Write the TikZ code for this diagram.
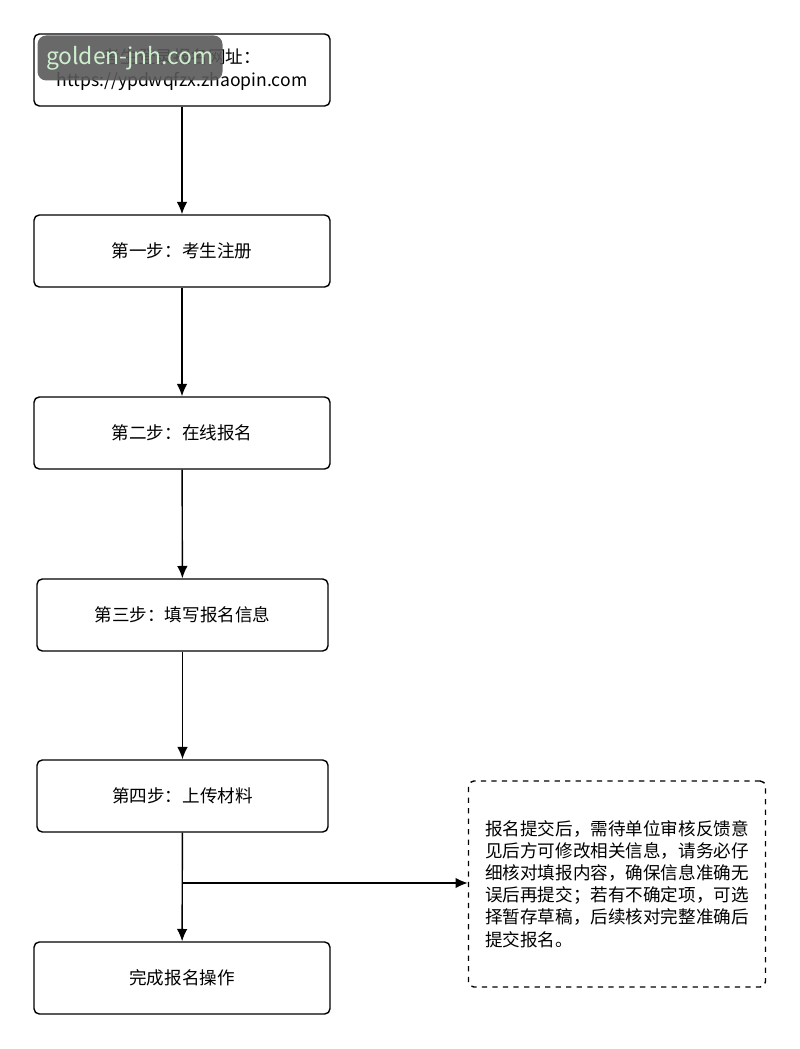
\documentclass[tikz,border=0pt]{standalone}
\usepackage{fontspec}
\setmainfont{Noto Sans CJK SC}
\usetikzlibrary{positioning,arrows.meta}
\tikzset{
    stepbox/.style={draw, thick, rounded corners=3pt, minimum width=5.92cm, minimum height=1.44cm, align=center, font=\fontsize{10}{13}\selectfont},
    notebox/.style={draw, thick, dashed, rounded corners=3pt, minimum width=5.94cm, minimum height=4.12cm, align=left, font=\fontsize{10}{12.6}\selectfont},
    flow/.style={-{Latex[length=7pt,width=6pt]}, thick}
}
\begin{document}
\begin{tikzpicture}
    \useasboundingbox (0,0) rectangle (16,20.98);
    \node[stepbox] (site) at (3.64,19.58) {考生登录报名网址：\\https://ypdwqfzx.zhaopin.com};
    \node[stepbox] (reg) at (3.64,15.96) {第一步：考生注册};
    \node[stepbox] (apply) at (3.64,12.32) {第二步：在线报名};
    \node[stepbox, minimum width=5.82cm] (fill) at (3.65,8.68) {第三步：填写报名信息};
    \node[stepbox, minimum width=5.82cm] (upload) at (3.65,5.06) {第四步：上传材料};
    \node[stepbox] (done) at (3.64,1.42) {完成报名操作};
    \node[notebox] (note) at (12.34,3.30) {报名提交后，需待单位审核反馈意\\见后方可修改相关信息，请务必仔\\细核对填报内容，确保信息准确无\\误后再提交；若有不确定项，可选\\择暂存草稿，后续核对完整准确后\\提交报名。};
    \coordinate (split) at (3.64,3.32);

    \draw[flow] (site) -- (reg);
    \draw[flow] (reg) -- (apply);
    \draw[flow] (apply) -- (fill);
    \draw[flow] (fill) -- (upload);
    \draw[flow] (upload) -- (done);
    \draw[flow] (split) -- (split -| note.west);

    % watermark
    \node[fill=black!65, opacity=0.9, text=white!85!green, rounded corners=5pt, minimum width=3.7cm, minimum height=0.9cm, font=\fontsize{13}{14}\selectfont] (mark) at (2.6,19.82) {golden-jnh.com};
\end{tikzpicture}
\end{document}
